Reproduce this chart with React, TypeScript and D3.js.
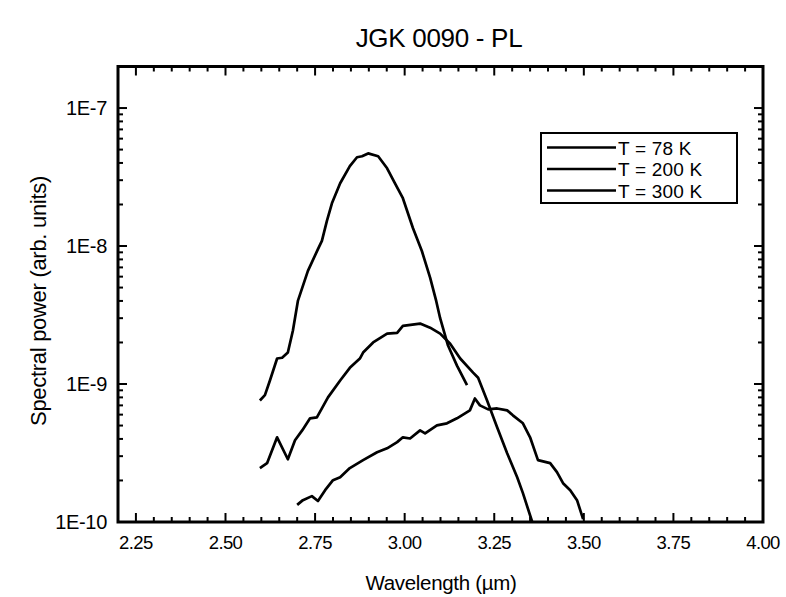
import React from "react";
import * as d3 from "d3";

const TITLE = "JGK 0090 - PL";
const X_LABEL = "Wavelength (\u00b5m)";
const Y_LABEL = "Spectral power (arb. units)";

const xMajorTicks = [2.25, 2.5, 2.75, 3.0, 3.25, 3.5, 3.75, 4.0];
const yMajorTicks = [1e-10, 1e-9, 1e-8, 1e-7];
const yTickLabels = ["1E-10", "1E-9", "1E-8", "1E-7"];

const seriesNames = ["T = 78 K", "T = 200 K", "T = 300 K"];

const wl78 = [2.596, 2.61, 2.624, 2.644, 2.658, 2.674, 2.688, 2.702, 2.73, 2.758, 2.769, 2.783, 2.797, 2.82, 2.847, 2.867, 2.881, 2.898, 2.926, 2.951, 2.973, 2.995, 3.023, 3.048, 3.071, 3.088, 3.099, 3.121, 3.146, 3.174];
const pw78 = [7.6e-10, 8.3e-10, 1.06e-9, 1.53e-9, 1.55e-9, 1.69e-9, 2.43e-9, 4.0e-9, 6.6e-9, 9.5e-9, 1.09e-8, 1.52e-8, 2.04e-8, 2.85e-8, 3.79e-8, 4.4e-8, 4.47e-8, 4.69e-8, 4.47e-8, 3.66e-8, 2.85e-8, 2.22e-8, 1.35e-8, 9.2e-9, 5.9e-9, 4.0e-9, 3.0e-9, 1.9e-9, 1.36e-9, 9.8e-10];

const wl200 = [2.596, 2.616, 2.644, 2.674, 2.694, 2.714, 2.736, 2.755, 2.769, 2.786, 2.82, 2.847, 2.875, 2.884, 2.912, 2.951, 2.979, 2.995, 3.043, 3.071, 3.099, 3.127, 3.155, 3.191, 3.205, 3.23, 3.258, 3.286, 3.314, 3.33, 3.356];
const pw200 = [2.46e-10, 2.67e-10, 4.11e-10, 2.85e-10, 3.91e-10, 4.61e-10, 5.64e-10, 5.73e-10, 6.65e-10, 8.0e-10, 1.06e-9, 1.31e-9, 1.53e-9, 1.69e-9, 2.0e-9, 2.32e-9, 2.35e-9, 2.64e-9, 2.74e-9, 2.56e-9, 2.32e-9, 1.96e-9, 1.53e-9, 1.21e-9, 1.11e-9, 7.6e-10, 4.86e-10, 3.15e-10, 2.11e-10, 1.62e-10, 1.0e-10];

const wl300 = [2.7, 2.716, 2.741, 2.758, 2.778, 2.8, 2.82, 2.847, 2.884, 2.923, 2.951, 2.979, 2.995, 3.015, 3.043, 3.057, 3.09, 3.118, 3.146, 3.182, 3.196, 3.21, 3.233, 3.258, 3.286, 3.302, 3.33, 3.35, 3.372, 3.406, 3.425, 3.442, 3.462, 3.481, 3.498];
const pw300 = [1.33e-10, 1.44e-10, 1.54e-10, 1.42e-10, 1.7e-10, 2.01e-10, 2.11e-10, 2.46e-10, 2.81e-10, 3.2e-10, 3.42e-10, 3.79e-10, 4.11e-10, 4.03e-10, 4.61e-10, 4.39e-10, 5.01e-10, 5.19e-10, 5.64e-10, 6.44e-10, 7.85e-10, 7.0e-10, 6.55e-10, 6.65e-10, 6.44e-10, 5.93e-10, 5.19e-10, 4.11e-10, 2.81e-10, 2.67e-10, 2.3e-10, 1.91e-10, 1.7e-10, 1.44e-10, 1.05e-10];

const W = 786;
const H = 597;
const L = 118, R = 763, T = 66.5, B = 522;

export default function App() {
  const x = d3.scaleLinear().domain([2.2, 4.0]).range([L, R]);
  const y = d3.scaleLog().domain([1e-10, 2e-7]).range([B, T]);

  const xMinor = d3.range(2.25, 4.0001, 0.05).map((v) => Math.round(v * 100) / 100).filter((v) => !xMajorTicks.some((m) => Math.abs(m - v) < 1e-6));
  const yMinor: number[] = [];
  for (let e = -10; e <= -7; e++) {
    for (let k = 2; k <= 9; k++) {
      const v = k * Math.pow(10, e);
      if (v < 2e-7 * 0.999) yMinor.push(v);
    }
  }

  const line = d3.line<[number, number]>().x((d) => x(d[0])).y((d) => y(d[1]));
  const series = [
    wl78.map((w, i) => [w, pw78[i]] as [number, number]),
    wl200.map((w, i) => [w, pw200[i]] as [number, number]),
    wl300.map((w, i) => [w, pw300[i]] as [number, number]),
  ];

  const font = "'Liberation Sans', Arial, sans-serif";
  const majorLen = 9, minorLen = 5;
  const lgX = 541, lgY = 133, lgW = 196, lgH = 70;

  return (
    <svg width={W} height={H} style={{ position: "absolute", left: 0, top: 0, background: "#fff" }} fontFamily={font}>
      <rect x={0} y={0} width={W} height={H} fill="#fff" />
      <text x={439} y={47} textAnchor="middle" fontSize={26} letterSpacing={-0.3}>{TITLE}</text>

      <defs>
        <clipPath id="clip"><rect x={L} y={T} width={R - L} height={B - T} /></clipPath>
      </defs>
      <g clipPath="url(#clip)">
        {series.map((s, i) => (
          <path key={i} d={line(s) || ""} fill="none" stroke="#000" strokeWidth={2.7} strokeLinejoin="round" />
        ))}
      </g>

      <g stroke="#000" strokeWidth={2}>
        {xMajorTicks.map((v) => (
          <g key={"xm" + v}>
            <line x1={x(v)} x2={x(v)} y1={B} y2={B - majorLen} />
            <line x1={x(v)} x2={x(v)} y1={T} y2={T + majorLen} />
          </g>
        ))}
        {xMinor.map((v) => (
          <g key={"xn" + v}>
            <line x1={x(v)} x2={x(v)} y1={B} y2={B - minorLen} />
            <line x1={x(v)} x2={x(v)} y1={T} y2={T + minorLen} />
          </g>
        ))}
        {yMajorTicks.map((v) => (
          <g key={"ym" + v}>
            <line x1={L} x2={L + majorLen} y1={y(v)} y2={y(v)} />
            <line x1={R} x2={R - majorLen} y1={y(v)} y2={y(v)} />
          </g>
        ))}
        {yMinor.map((v) => (
          <g key={"yn" + v}>
            <line x1={L} x2={L + minorLen} y1={y(v)} y2={y(v)} />
            <line x1={R} x2={R - minorLen} y1={y(v)} y2={y(v)} />
          </g>
        ))}
      </g>
      <rect x={L} y={T} width={R - L} height={B - T} fill="none" stroke="#000" strokeWidth={3} />

      {xMajorTicks.map((v) => (
        <text key={"xl" + v} x={x(v)} y={B + 27} textAnchor="middle" fontSize={18.5} letterSpacing={-0.6}>{v.toFixed(2)}</text>
      ))}
      {yMajorTicks.map((v, i) => (
        <text key={"yl" + v} x={L - 11} y={y(v) + 7} textAnchor="end" fontSize={20} letterSpacing={-0.3}>{yTickLabels[i]}</text>
      ))}

      <text x={441} y={590} textAnchor="middle" fontSize={20.5} letterSpacing={-0.3}>{X_LABEL}</text>
      <text transform={`translate(46, 301) rotate(-90)`} textAnchor="middle" fontSize={22} letterSpacing={-0.3}>{Y_LABEL}</text>

      <rect x={lgX} y={lgY} width={lgW} height={lgH} fill="#fff" stroke="#000" strokeWidth={2} />
      {seriesNames.map((n, i) => {
        const cy = lgY + 14.5 + i * 21.5;
        return (
          <g key={n}>
            <line x1={lgX + 6} x2={lgX + 75} y1={cy} y2={cy} stroke="#000" strokeWidth={2.4} />
            <text x={lgX + 77} y={cy + 7} fontSize={19} letterSpacing={0.2}>{n}</text>
          </g>
        );
      })}
    </svg>
  );
}
